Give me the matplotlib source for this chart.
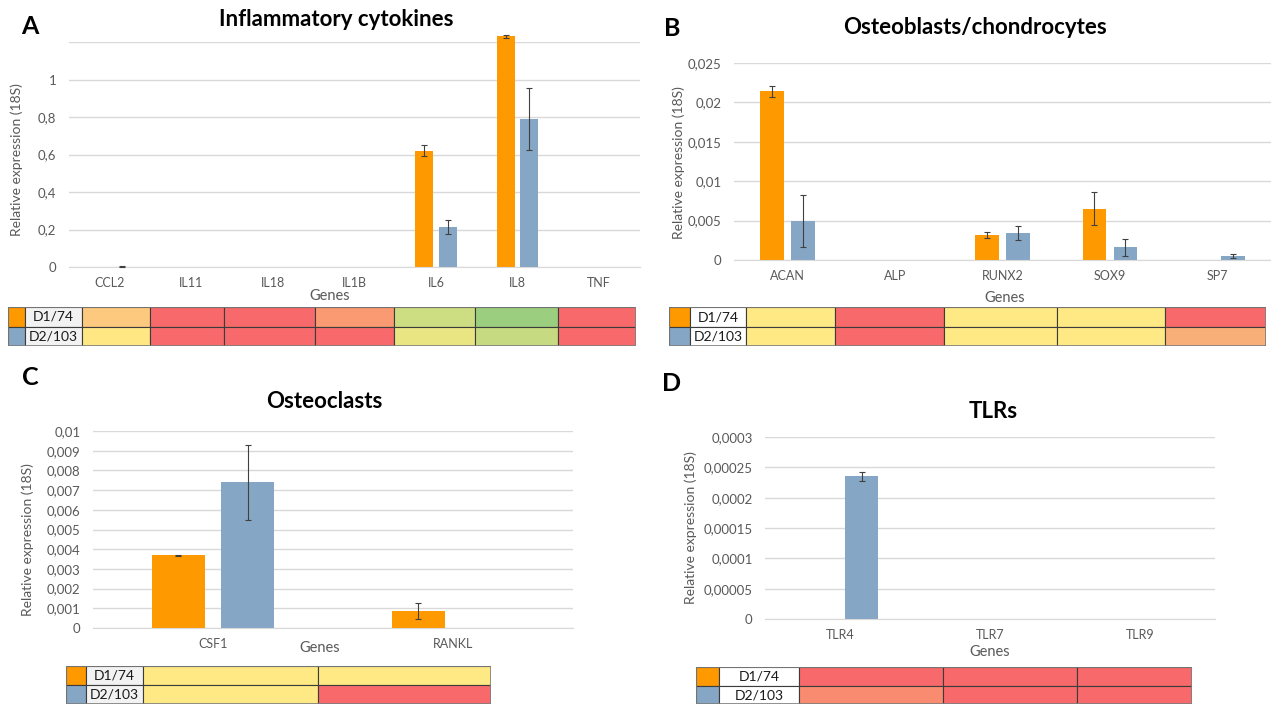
import matplotlib
matplotlib.use("Agg")
import matplotlib.pyplot as plt
from matplotlib.patches import Rectangle
from matplotlib.ticker import FuncFormatter
import numpy as np

plt.rcParams['font.family'] = ['Lato', 'DejaVu Sans']

# ---- data ----
series = ["D1/74", "D2/103"]

a_genes = ["CCL2", "IL11", "IL18", "IL1B", "IL6", "IL8", "TNF"]
a_d1 = [0, 0, 0, 0, 0.62, 1.23, 0]
a_d1_err = [0, 0, 0, 0, 0.03, 0.008, 0]
a_d2 = [0.002, 0, 0, 0, 0.215, 0.79, 0]
a_d2_err = [0.001, 0, 0, 0, 0.038, 0.165, 0]
a_ticks = [0, 0.2, 0.4, 0.6, 0.8, 1.0, 1.2]
a_heat_d1 = ['#FDC97E', '#F8696B', '#F8696B', '#F99A73', '#CDDD82', '#9BCF7F', '#F8696B']
a_heat_d2 = ['#FFE784', '#F8696B', '#F8696B', '#F8696B', '#EAE583', '#C5DA81', '#F8696B']

b_genes = ["ACAN", "ALP", "RUNX2", "SOX9", "SP7"]
b_d1 = [0.0214, 0, 0.0032, 0.0065, 0]
b_d1_err = [0.0007, 0, 0.0004, 0.0021, 0]
b_d2 = [0.0050, 0, 0.0034, 0.0016, 0.0005]
b_d2_err = [0.0033, 0, 0.0009, 0.0011, 0.0002]
b_ticks = [0, 0.005, 0.01, 0.015, 0.02, 0.025]
b_heat_d1 = ['#FFE984', '#F8696B', '#FFE984', '#FFE984', '#F8696B']
b_heat_d2 = ['#FFE984', '#F8696B', '#FFE984', '#FFE984', '#F9AF78']

c_genes = ["CSF1", "RANKL"]
c_d1 = [0.0037, 0.00085]
c_d1_err = [0.00003, 0.0004]
c_d2 = [0.0074, 0]
c_d2_err = [0.0019, 0]
c_ticks = [0, 0.001, 0.002, 0.003, 0.004, 0.005, 0.006, 0.007, 0.008, 0.009, 0.01]
c_heat_d1 = ['#FFE984', '#FFE984']
c_heat_d2 = ['#FFE984', '#F8696B']

d_genes = ["TLR4", "TLR7", "TLR9"]
d_d1 = [0, 0, 0]
d_d1_err = [0, 0, 0]
d_d2 = [0.000235, 0, 0]
d_d2_err = [0.000008, 0, 0]
d_ticks = [0, 0.00005, 0.0001, 0.00015, 0.0002, 0.00025, 0.0003]
d_heat_d1 = ['#F8696B', '#F8696B', '#F8696B']
d_heat_d2 = ['#F98B70', '#F8696B', '#F8696B']

ORANGE = '#FF9900'
BLUE = '#85A6C4'
GREY = '#595959'
GRID = '#D9D9D9'

W, H = 1271, 709
fig = plt.figure(figsize=(W / 100, H / 100), dpi=100)


def px_axes(x0, y0, x1, y1):
    return fig.add_axes([x0 / W, 1 - y1 / H, (x1 - x0) / W, (y1 - y0) / H])


def comma(v, pos=None):
    s = f"{v:.5f}".rstrip('0').rstrip('.')
    return s.replace('.', ',')


def bar_panel(box, genes, d1, d1_err, d2, d2_err, ticks, hide_top=False):
    ax = px_axes(*box)
    x = np.arange(len(genes))
    for off, vals, errs, col in [(-0.145, d1, d1_err, ORANGE), (0.145, d2, d2_err, BLUE)]:
        vals = np.array(vals)
        errs = np.array(errs)
        ax.bar(x + off, vals, 0.22, color=col, zorder=2, clip_on=False)
        m = errs > 0
        ax.errorbar(x[m] + off, vals[m], yerr=errs[m], fmt='none', ecolor='#404040',
                    elinewidth=0.8, capsize=2.5, capthick=0.8, zorder=3, clip_on=False)
    ax.set_xlim(-0.5, len(genes) - 0.5)
    ax.set_ylim(ticks[0], ticks[-1])
    ax.set_yticks(ticks)
    fmt = FuncFormatter(lambda v, p: '' if (hide_top and abs(v - ticks[-1]) < 1e-12) else comma(v))
    ax.yaxis.set_major_formatter(fmt)
    ax.set_xticks(x)
    ax.set_xticklabels(genes)
    ax.grid(axis='y', color=GRID, lw=1, zorder=0)
    for s in ['top', 'right', 'left']:
        ax.spines[s].set_visible(False)
    ax.spines['bottom'].set_color(GRID)
    ax.tick_params(length=0, labelsize=9, colors=GREY, pad=7)
    ax.tick_params(axis='y', pad=9, labelsize=9.5)
    ax.set_facecolor('none')
    return ax


def heat_table(xs, ys, label_bg, rows):
    ax = px_axes(xs[0], ys[0], xs[-1], ys[-1])
    ax.set_xlim(xs[0], xs[-1])
    ax.set_ylim(ys[-1], ys[0])
    ax.axis('off')
    for r, (sw, lab, cols) in enumerate(rows):
        y0, y1 = ys[r], ys[r + 1]
        fills = [sw, label_bg] + cols
        for c, fc in enumerate(fills):
            ax.add_patch(Rectangle((xs[c], y0), xs[c + 1] - xs[c], y1 - y0,
                                   facecolor=fc, edgecolor='#3c3c3c', lw=0.8))
        ax.text((xs[1] + xs[2]) / 2, (y0 + y1) / 2, lab, ha='center', va='center',
                fontsize=10, color='#1a1a1a')
    ax.add_patch(Rectangle((xs[0], ys[0]), xs[-1] - xs[0], ys[-1] - ys[0],
                           fill=False, edgecolor='#7f7f7f', lw=1.2))


def labels(letter, lpos, title, tpos, ypos, gpos):
    fig.text(lpos[0] / W, 1 - lpos[1] / H, letter, fontsize=18, fontweight='bold', ha='center', va='center')
    fig.text(tpos[0] / W, 1 - tpos[1] / H, title, fontsize=16, fontweight='bold', ha='center', va='center')
    fig.text(ypos[0] / W, 1 - ypos[1] / H, "Relative expression (18S)", rotation=90,
             fontsize=10, color=GREY, ha='center', va='center')
    fig.text(gpos[0] / W, 1 - gpos[1] / H, "Genes", fontsize=10.5, color=GREY, ha='center', va='center')


# ---- panel A ----
bar_panel((69, 42, 640, 267), a_genes, a_d1, a_d1_err, a_d2, a_d2_err, a_ticks, hide_top=True)
heat_table([8, 25, 82, 150, 224, 315, 394, 475, 558, 636], [307, 326.5, 346], '#F2F2F2',
           [(ORANGE, series[0], a_heat_d1), (BLUE, series[1], a_heat_d2)])
labels("A", (30, 27), "Inflammatory cytokines", (336, 19), (17, 160), (330, 296))

# ---- panel B ----
bar_panel((734, 63, 1271, 260), b_genes, b_d1, b_d1_err, b_d2, b_d2_err, b_ticks)
heat_table([669, 690, 746, 835, 944, 1057, 1165, 1266], [307, 327, 346], 'white',
           [(ORANGE, series[0], b_heat_d1), (BLUE, series[1], b_heat_d2)])
labels("B", (672, 29), "Osteoblasts/chondrocytes", (975, 28), (679, 163), (1005, 298))

# ---- panel C ----
bar_panel((93, 431, 573, 628), c_genes, c_d1, c_d1_err, c_d2, c_d2_err, c_ticks)
heat_table([66, 86, 143, 318, 491], [666, 685, 704], '#F2F2F2',
           [(ORANGE, series[0], c_heat_d1), (BLUE, series[1], c_heat_d2)])
labels("C", (30, 378), "Osteoclasts", (324, 402), (28, 540), (320, 648))

# ---- panel D ----
bar_panel((765, 437, 1215, 619), d_genes, d_d1, d_d1_err, d_d2, d_d2_err, d_ticks)
heat_table([696, 719, 799, 943, 1077, 1192], [667, 686, 704], 'white',
           [(ORANGE, series[0], d_heat_d1), (BLUE, series[1], d_heat_d2)])
labels("D", (672, 383), "TLRs", (993, 412), (691, 528), (990, 652))

fig.savefig("out.png", dpi=100)
